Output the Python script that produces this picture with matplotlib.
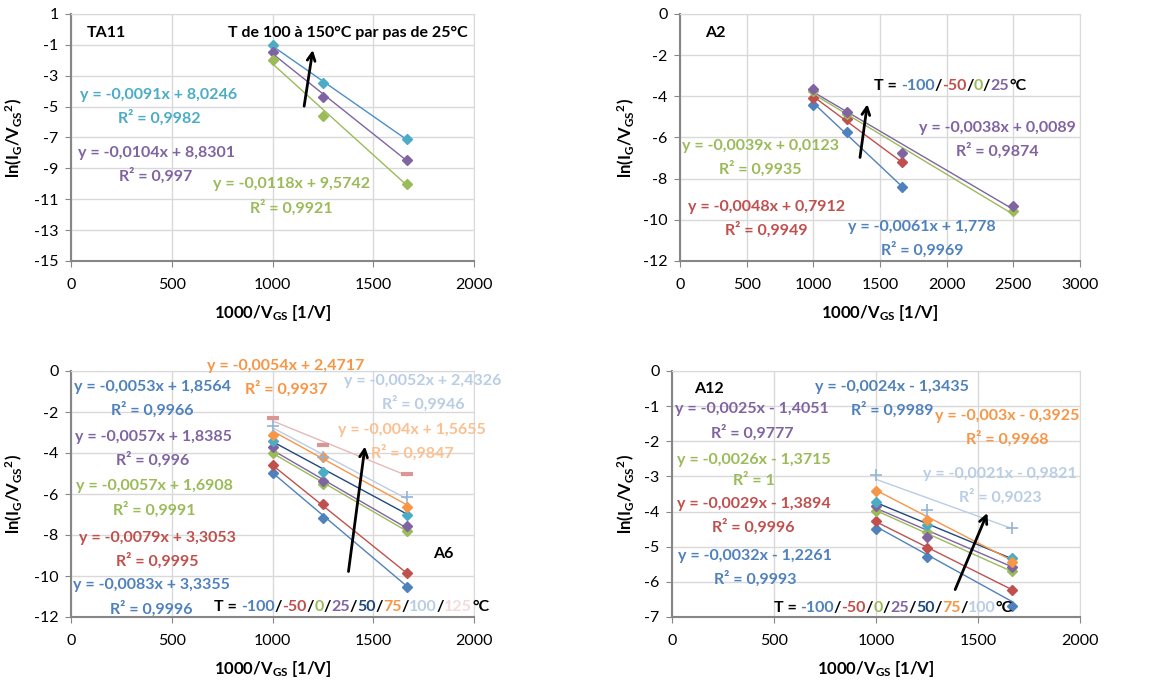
import matplotlib
matplotlib.use('Agg')
import matplotlib.pyplot as plt
from matplotlib.offsetbox import TextArea, HPacker, AnnotationBbox

plt.rcParams['font.family'] = ['Lato', 'DejaVu Sans']
plt.rcParams['axes.unicode_minus'] = False
plt.rcParams['mathtext.default'] = 'regular'

# colours (Excel palette)
BLUE = '#4F81BD'
RED = '#C0504D'
GREEN = '#9BBB59'
PURPLE = '#8064A2'
CYAN = '#4BACC6'
NAVY = '#1F497D'
ORANGE = '#F79646'
LBLUE = '#B9CDE5'
PEACH = '#FAC090'
PINK = '#F2DCDB'

# ---- data ----
x3 = [1000, 1250, 1667]
x4 = [1000, 1250, 1667, 2500]
x_a2_green = [1000, 1250, 2500]

# TA11 (T = 100 / 125 / 150 C)
ta11_y = [[-1.0, -3.5, -7.1], [-1.45, -4.4, -8.45], [-2.0, -5.6, -10.0]]
ta11_slope = [-0.0091, -0.0104, -0.0118]
ta11_icpt = [8.0246, 8.8301, 9.5742]
ta11_r2 = [0.9982, 0.997, 0.9921]

# A2 (T = -100 / -50 / 0 / 25 C)
a2_y = [[-4.4, -5.75, -8.4], [-4.1, -5.1, -7.2], [-3.75, -4.85, -9.55], [-3.65, -4.75, -6.75, -9.35]]
a2_slope = [-0.0061, -0.0048, -0.0039, -0.0038]
a2_icpt = [1.778, 0.7912, 0.0123, 0.0089]
a2_r2 = [0.9969, 0.9949, 0.9935, 0.9874]

# A6 (T = -100 ... 125 C)
a6_y = [[-4.96, -7.15, -10.55], [-4.6, -6.49, -9.87], [-4.02, -5.51, -7.79], [-3.72, -5.35, -7.56],
        [-3.4, -4.94, -7.02], [-3.11, -4.21, -6.65], [-2.68, -4.18, -6.13], [-2.31, -3.61, -5.02]]
a6_slope = [-0.0083, -0.0079, -0.0057, -0.0057, -0.0053, -0.0054, -0.0052, -0.004]
a6_icpt = [3.3355, 3.3053, 1.6908, 1.8385, 1.8564, 2.4717, 2.4326, 1.5655]
a6_r2 = [0.9996, 0.9995, 0.9991, 0.996, 0.9966, 0.9937, 0.9946, 0.9847]

# A12 (T = -100 ... 100 C)
a12_y = [[-4.51, -5.28, -6.68], [-4.27, -5.05, -6.23], [-3.97, -4.57, -5.69], [-3.83, -4.73, -5.59],
         [-3.72, -4.38, -5.33], [-3.41, -4.24, -5.44], [-2.96, -3.96, -4.48]]
a12_slope = [-0.0032, -0.0029, -0.0026, -0.0025, -0.0024, -0.003, -0.0021]
a12_icpt = [-1.2261, -1.3894, -1.3715, -1.4051, -1.3435, -0.3925, -0.9821]
a12_r2 = [0.9993, 0.9996, 1, 0.9777, 0.9989, 0.9968, 0.9023]

temps_a2 = ['-100', '-50', '0', '25']
temps_a6 = ['-100', '-50', '0', '25', '50', '75', '100', '125']
temps_a12 = ['-100', '-50', '0', '25', '50', '75', '100']

FS = 11.5
W, H = 1166, 684
fig = plt.figure(figsize=(W / 100, H / 100), dpi=100)


def make_ax(l, t, w, h):
    return fig.add_axes([l / W, 1 - (t + h) / H, w / W, h / H])


def setup(ax, xmax, xstep, ymin, ymax, ystep, ylab_x):
    ax.set_xlim(0, xmax)
    ax.set_ylim(ymin, ymax)
    ax.set_xticks(range(0, xmax + 1, xstep))
    ax.set_yticks(range(ymin, ymax + 1, ystep))
    ax.grid(color='#D9D9D9', lw=1)
    ax.set_axisbelow(True)
    for s in ['top', 'right']:
        ax.spines[s].set_color('#D9D9D9')
    for s in ['left', 'bottom']:
        ax.spines[s].set_color('#868686')
        ax.spines[s].set_linewidth(1.5)
    ax.tick_params(length=4, color='#868686', labelsize=11.5, pad=5)
    ax.tick_params(axis='x', pad=8)
    ax.set_xlabel('1000/V$_{GS}$ [1/V]', fontsize=12, fontweight='bold')
    ax.set_ylabel('ln(I$_G$/V$_{GS}{}^2$)', fontsize=12, fontweight='bold')
    ax.xaxis.set_label_coords(0.5, -0.17)
    ax.yaxis.set_label_coords(ylab_x, 0.5)


def series(ax, x, y, slope, icpt, mcolor, lcolor, marker='D', ms=5, mew=1):
    ax.plot(x, y, ls='none', marker=marker, color=mcolor, ms=ms, mew=mew, zorder=3)
    xs = [min(x), max(x)]
    ax.plot(xs, [slope * v + icpt for v in xs], color=lcolor, lw=1, zorder=2)


def eq_label(ax, x, y, slope, icpt, r2, color):
    sign = '+' if icpt >= 0 else '-'
    s = f'y = {slope:g}x {sign} {abs(icpt):g}\nR² = {r2:g}'.replace('.', ',')
    ax.text(x, y, s, color=color, ha='center', va='center', fontsize=FS,
            fontweight='bold', linespacing=1.6, multialignment='center')


def temp_label(ax, x, y, temps, colors):
    parts = [('T = ', 'black')]
    for i, (t, c) in enumerate(zip(temps, colors)):
        if i > 0:
            parts.append(('/', 'black'))
        parts.append((t, c))
    parts.append(('°C', 'black'))
    boxes = [TextArea(t, textprops=dict(color=c, fontsize=FS, fontweight='bold')) for t, c in parts]
    pack = HPacker(children=boxes, align='baseline', pad=0, sep=0)
    ab = AnnotationBbox(pack, (x, y), xycoords='data', box_alignment=(0, 0.5),
                        frameon=False, pad=0, zorder=5)
    ax.add_artist(ab)


def arrow(ax, tail, head):
    ax.annotate('', xy=head, xytext=tail,
                arrowprops=dict(arrowstyle='->', lw=2, color='black', mutation_scale=14,
                                shrinkA=0, shrinkB=0), zorder=6)


# ---- TA11 ----
ax1 = make_ax(71, 14, 403, 247)
setup(ax1, 2000, 500, -15, 1, 2, -0.114)
ta11_mc = [CYAN, PURPLE, GREEN]
ta11_lc = ['#4A8FC8', PURPLE, GREEN]
for i in range(3):
    series(ax1, x3, ta11_y[i], ta11_slope[i], ta11_icpt[i], ta11_mc[i], ta11_lc[i])
ta11_pos = [(436, -5.01), (422, -8.79), (1095, -10.81)]
for i in range(3):
    eq_label(ax1, ta11_pos[i][0], ta11_pos[i][1], ta11_slope[i], ta11_icpt[i], ta11_r2[i], ta11_mc[i])
ax1.text(79, -0.25, 'TA11', fontsize=FS, fontweight='bold', va='center')
ax1.text(780, -0.25, 'T de 100 à 150°C par pas de 25°C', fontsize=FS, fontweight='bold', va='center')
arrow(ax1, (1157, -4.97), (1200, -1.33))

# ---- A2 ----
ax2 = make_ax(680, 14, 400, 247)
setup(ax2, 3000, 500, -12, 0, 2, -0.108)
a2_x = [x3, x3, x_a2_green, x4]
a2_c = [BLUE, RED, GREEN, PURPLE]
for i in range(4):
    series(ax2, a2_x[i], a2_y[i], a2_slope[i], a2_icpt[i], a2_c[i], a2_c[i])
a2_pos = [(1814, -10.91), (646, -9.95), (602, -6.98), (2383, -6.13)]
for i in range(4):
    eq_label(ax2, a2_pos[i][0], a2_pos[i][1], a2_slope[i], a2_icpt[i], a2_r2[i], a2_c[i])
ax2.text(187, -0.94, 'A2', fontsize=FS, fontweight='bold', va='center')
temp_label(ax2, 1455, -3.5, temps_a2, a2_c)
arrow(ax2, (1350, -6.97), (1405, -4.38))

# ---- A6 ----
ax3 = make_ax(71, 371, 403, 246)
setup(ax3, 2000, 500, -12, 0, 2, -0.114)
a6_mc = [BLUE, RED, GREEN, PURPLE, CYAN, ORANGE, '#95B3D7', '#D99694']
a6_lc = [BLUE, RED, GREEN, PURPLE, NAVY, ORANGE, LBLUE, '#E6B9B8']
a6_tc = [BLUE, RED, GREEN, PURPLE, BLUE, ORANGE, LBLUE, PEACH]
a6_mk = ['D', 'D', 'D', 'D', 'D', 'D', '+', '_']
for i in range(8):
    ms = 9 if a6_mk[i] in '+_' else 5
    mew = 1.2 if a6_mk[i] == '+' else 3 if a6_mk[i] == '_' else 1
    series(ax3, x3, a6_y[i], a6_slope[i], a6_icpt[i], a6_mc[i], a6_lc[i], a6_mk[i], ms, mew)
a6_pos = [(400, -11.04), (430, -8.72), (415, -6.22), (407, -3.8),
          (402, -1.35), (1067, -0.33), (1747, -1.07), (1694, -3.47)]
for i in range(8):
    eq_label(ax3, a6_pos[i][0], a6_pos[i][1], a6_slope[i], a6_icpt[i], a6_r2[i], a6_tc[i])
ax3.text(1795, -8.91, 'A6', fontsize=FS, fontweight='bold', va='center')
temp_label(ax3, 712, -11.51, temps_a6, [BLUE, RED, GREEN, PURPLE, NAVY, ORANGE, LBLUE, PINK])
arrow(ax3, (1377, -9.78), (1459, -3.68))

# ---- A12 ----
ax4 = make_ax(672, 371, 408, 246)
setup(ax4, 2000, 500, -7, 0, 1, -0.086)
a12_mc = a6_mc[:7]
a12_lc = a6_lc[:7]
a12_tc = [BLUE, RED, GREEN, PURPLE, BLUE, ORANGE, LBLUE]
a12_mk = a6_mk[:7]
for i in range(7):
    ms = 9 if a12_mk[i] == '+' else 5
    mew = 1.2 if a12_mk[i] == '+' else 1
    series(ax4, x3, a12_y[i], a12_slope[i], a12_icpt[i], a12_mc[i], a12_lc[i], a12_mk[i], ms, mew)
a12_pos = [(407, -5.6), (400, -4.13), (399, -2.83), (392, -1.43),
           (1079, -0.8), (1645, -1.62), (1609, -3.26)]
for i in range(7):
    eq_label(ax4, a12_pos[i][0], a12_pos[i][1], a12_slope[i], a12_icpt[i], a12_r2[i], a12_tc[i])
ax4.text(106, -0.51, 'A12', fontsize=FS, fontweight='bold', va='center')
temp_label(ax4, 498, -6.75, temps_a12, [BLUE, RED, GREEN, PURPLE, NAVY, ORANGE, LBLUE])
arrow(ax4, (1388, -6.22), (1546, -4.04))

fig.savefig('out.png', dpi=100)
